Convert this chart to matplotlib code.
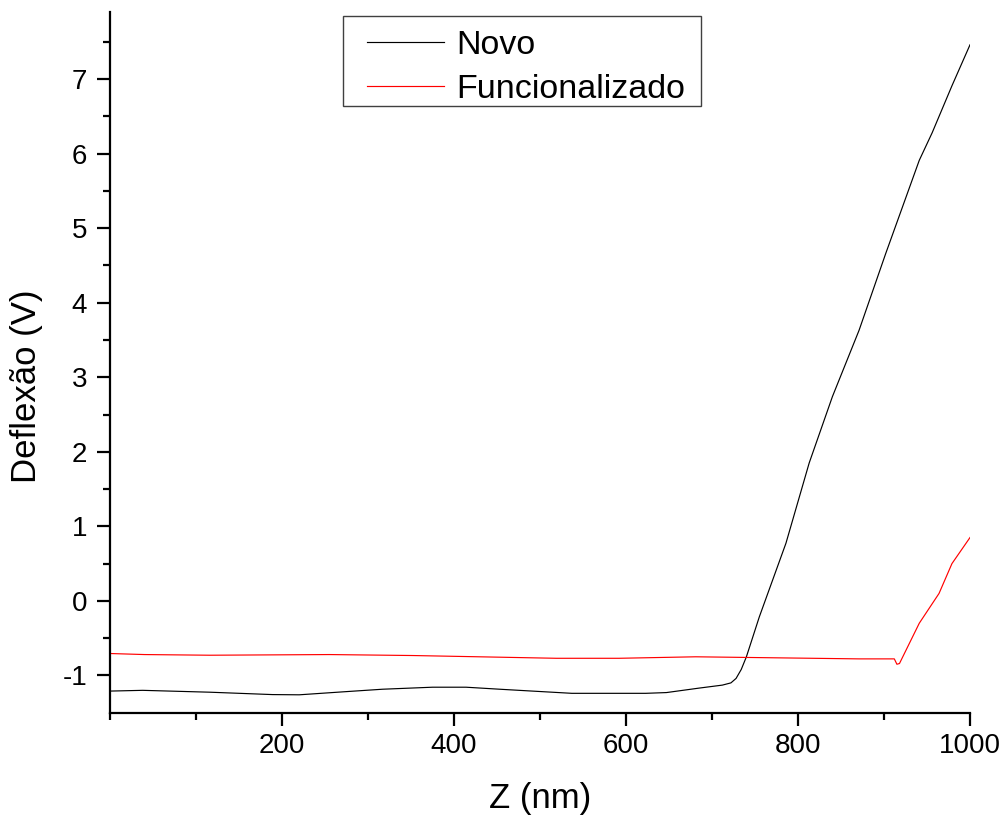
import matplotlib
matplotlib.use("Agg")
import matplotlib.pyplot as plt
from matplotlib.ticker import MultipleLocator, FixedLocator
from matplotlib.patches import Rectangle

# Data
novo_z = [0, 38, 116, 189, 220, 275, 317, 375, 414, 453, 491, 537, 592, 623, 647,
          685, 712, 722, 728, 734, 740, 755, 786, 813, 840, 871, 902, 941, 956, 979, 1000]
novo_defl = [-1.21, -1.20, -1.225, -1.257, -1.26, -1.217, -1.185, -1.158, -1.158, -1.185,
             -1.21, -1.24, -1.24, -1.24, -1.23, -1.17, -1.13, -1.10, -1.04, -0.92, -0.75,
             -0.215, 0.774, 1.85, 2.74, 3.63, 4.66, 5.91, 6.28, 6.91, 7.46]

func_z = [0, 40, 116, 255, 352, 429, 519, 592, 681, 871, 912, 915, 918, 941, 964, 979, 1000]
func_defl = [-0.706, -0.72, -0.729, -0.72, -0.733, -0.75, -0.77, -0.77, -0.75, -0.778,
             -0.778, -0.85, -0.84, -0.30, 0.10, 0.50, 0.85]

series_labels = ["Novo", "Funcionalizado"]
x_ticks = [200, 400, 600, 800, 1000]
y_ticks = [-1, 0, 1, 2, 3, 4, 5, 6, 7]

plt.rcParams['font.family'] = ['Liberation Sans', 'DejaVu Sans']
plt.rcParams['axes.unicode_minus'] = False

fig = plt.figure(figsize=(10.05, 8.18), dpi=100)
W, H = 1005, 818
left, right, top, bottom = 110, 970, 12, 712.7
ax = fig.add_axes([left / W, 1 - bottom / H, (right - left) / W, (bottom - top) / H])

ax.plot(novo_z, novo_defl, color='black', lw=0.85, label=series_labels[0])
ax.plot(func_z, func_defl, color='red', lw=0.85, label=series_labels[1])

ax.set_xlim(0, 1000)
ax.set_ylim(-1.5, 7.9)
ax.xaxis.set_major_locator(FixedLocator(x_ticks))
ax.xaxis.set_minor_locator(MultipleLocator(100))
ax.yaxis.set_major_locator(FixedLocator(y_ticks))
ax.yaxis.set_minor_locator(FixedLocator([-0.5 + i for i in range(9)]))

for s in ['top', 'right']:
    ax.spines[s].set_visible(False)
for s in ['left', 'bottom']:
    ax.spines[s].set_linewidth(1.6)

ax.tick_params(axis='both', which='major', direction='out', length=9.5, width=1.6,
               labelsize=20)
ax.tick_params(axis='both', which='minor', direction='out', length=5, width=1.6)
ax.tick_params(axis='x', which='major', pad=5)
ax.tick_params(axis='y', which='major', pad=7)

ax.set_xlabel("Z (nm)", fontsize=25)
ax.set_ylabel("Deflexão (V)", fontsize=25)
ax.xaxis.set_label_coords(0.5, -(782 - bottom) / (bottom - top))
ax.xaxis.label.set_va('top')
ax.yaxis.set_label_coords(-(left - 43) / (right - left), (bottom - 386) / (bottom - top))

leg_fs = 24.5
fs_px = leg_fs * 100 / 72
leg = ax.legend(loc='upper left', bbox_to_anchor=(366.7 / W, 1 - 30 / H),
                bbox_transform=fig.transFigure, fontsize=leg_fs, frameon=False,
                handlelength=77 / fs_px, handletextpad=12.7 / fs_px,
                borderpad=0, labelspacing=0.38, borderaxespad=0)

fig.add_artist(Rectangle((343 / W, 1 - 106 / H), (701 - 343) / W, (106 - 16) / H,
                         transform=fig.transFigure, fill=False,
                         edgecolor='#404040', linewidth=1.0))

fig.savefig("out.png", dpi=100)
